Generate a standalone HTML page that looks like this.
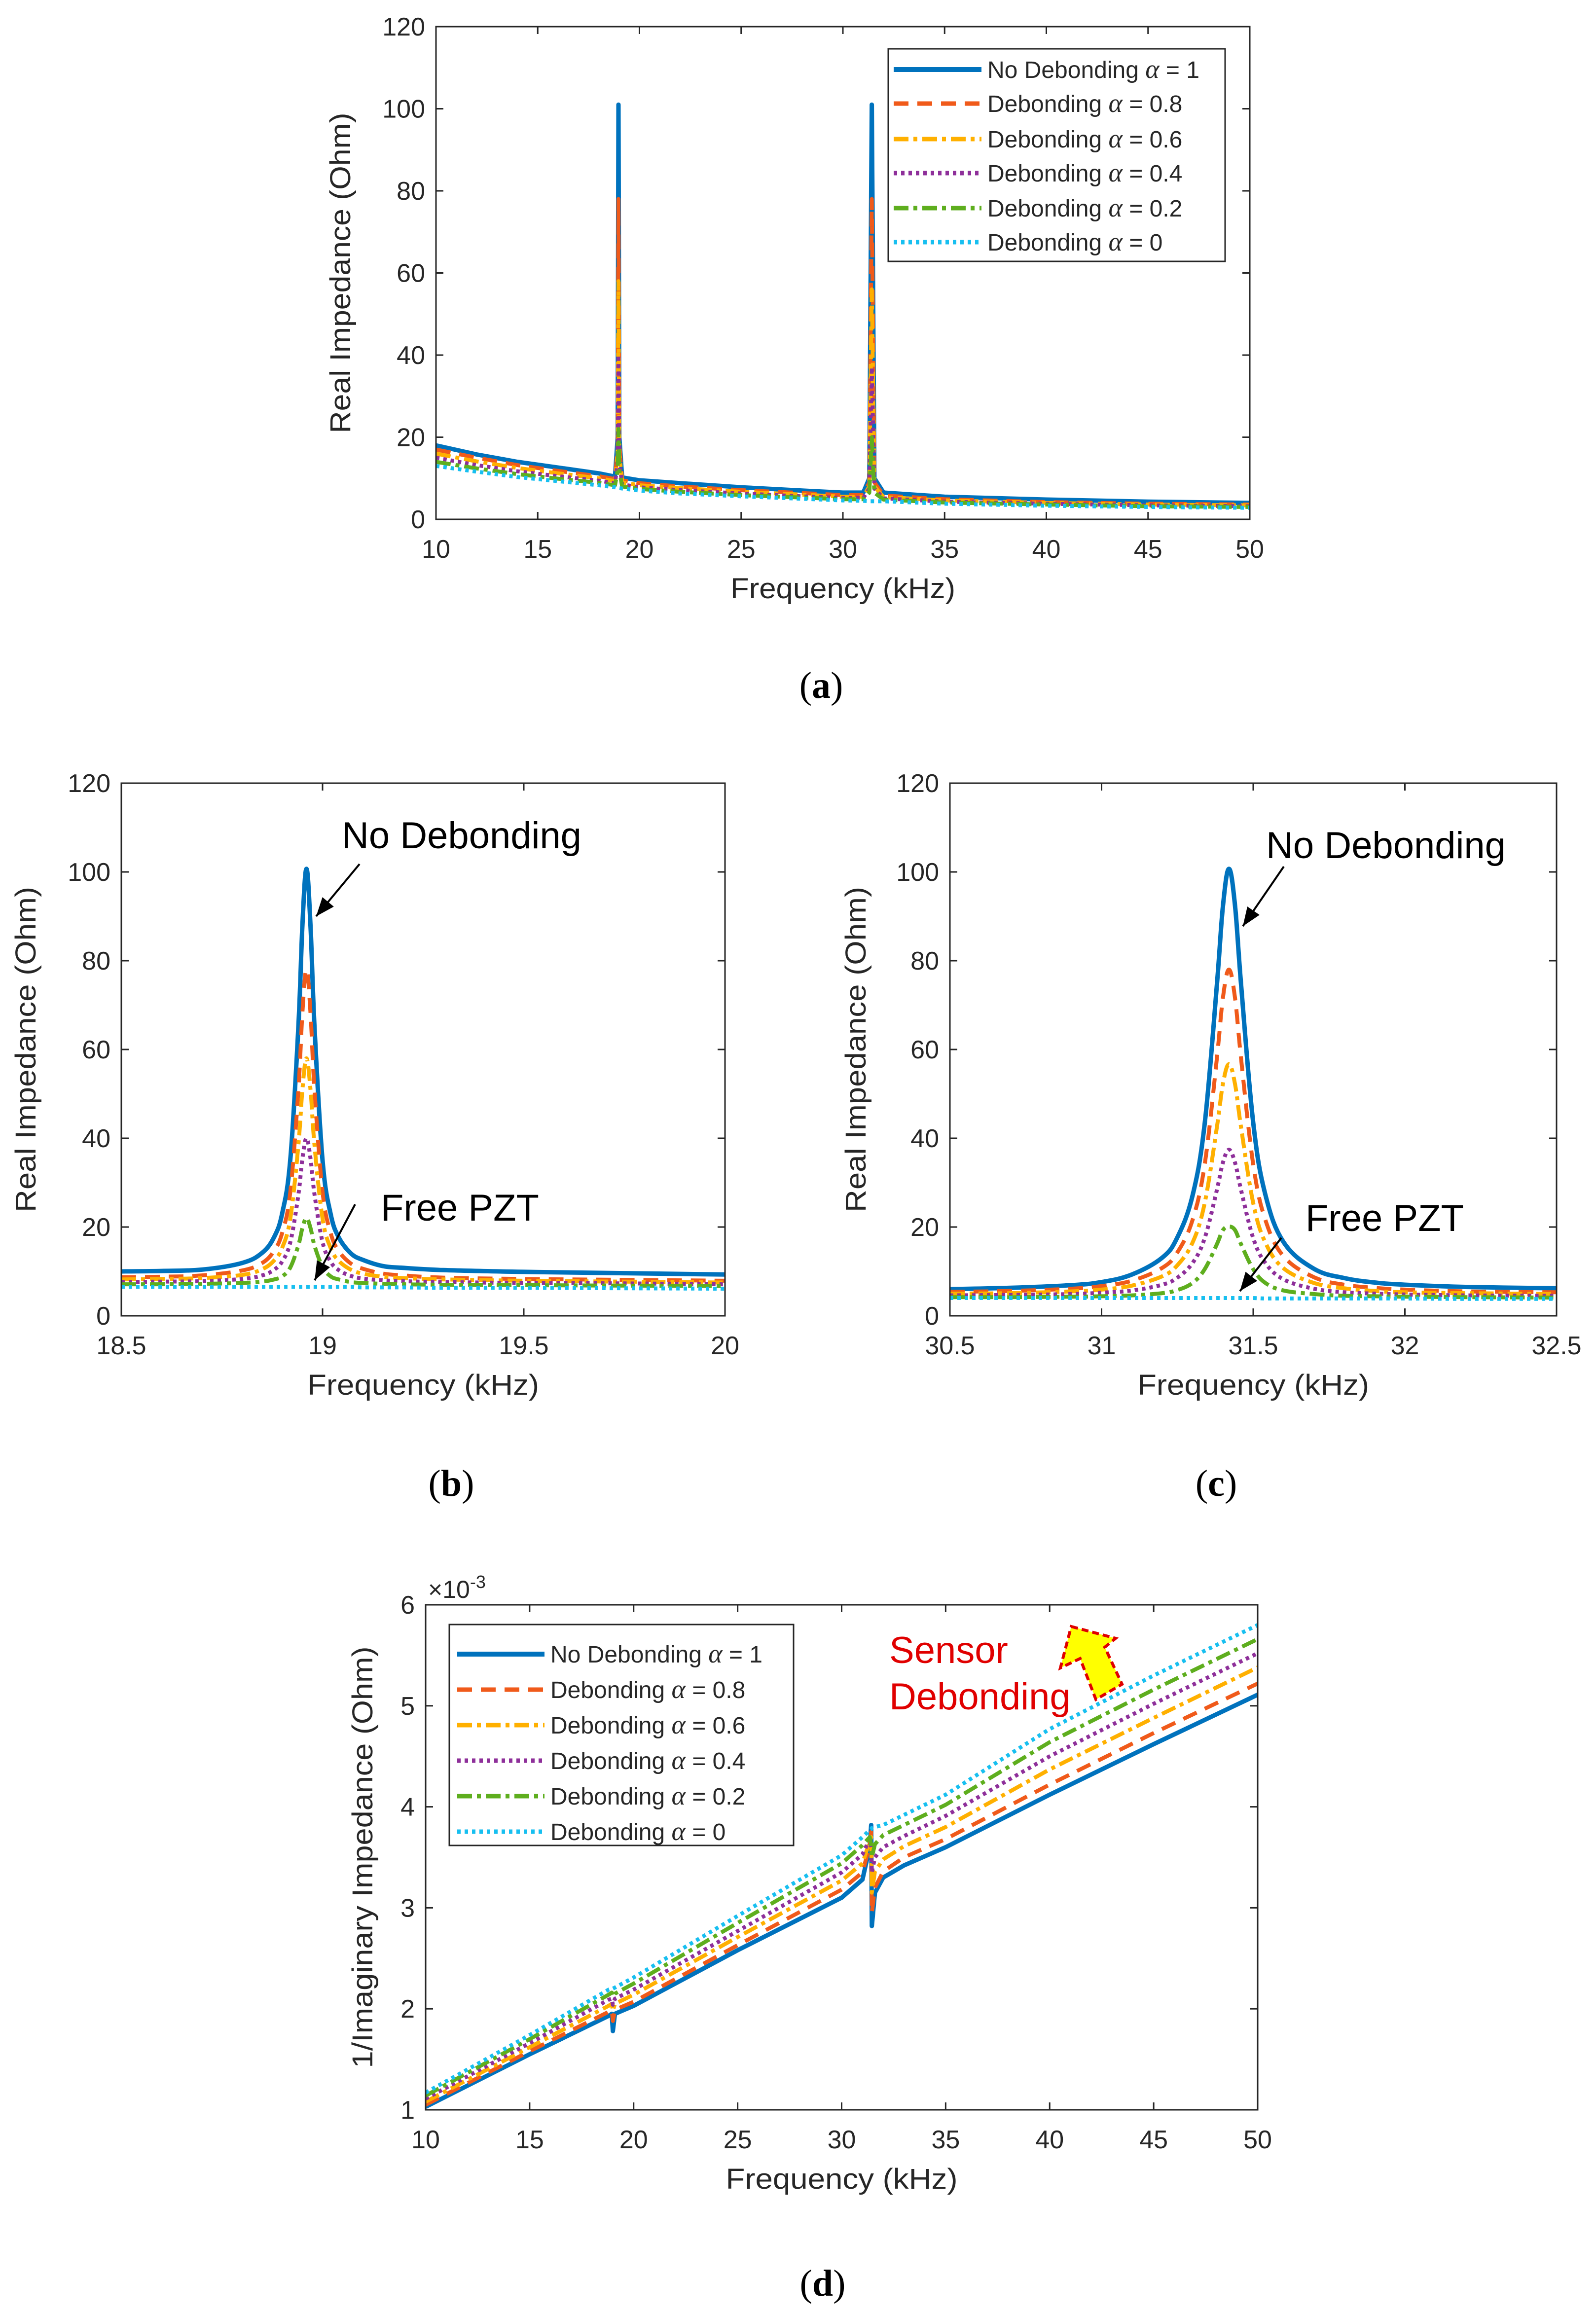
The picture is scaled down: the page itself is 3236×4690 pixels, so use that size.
<!DOCTYPE html>
<html><head><meta charset="utf-8">
<style>
html,body{margin:0;padding:0;background:#fff;}
svg{display:block;}
text{font-family:"Liberation Sans",sans-serif;fill:#262626;}
.tick{font-family:"Liberation Sans Narrow","Liberation Sans",sans-serif;font-size:52px;}
.cap{font-family:"Liberation Serif",serif;font-size:76px;fill:#000;}
.ann{font-family:"Liberation Sans Narrow","Liberation Sans",sans-serif;font-size:76px;fill:#000;}
</style></head>
<body>
<svg id="fig" xmlns="http://www.w3.org/2000/svg" width="3236" height="4690" viewBox="0 0 3236 4690">
</svg>
<script>
// ---------- Panel (a) data ----------
const freqA = [10,12,14,16,18,18.8,18.93,18.97,19.01,19.15,20,22,25,28,30,31,31.3,31.42,31.55,32,35,40,45,50];
const a_a1  = [18,15.8,14,12.6,11.2,10.4,20,101,20,10.2,9.5,8.8,7.8,7,6.5,6.5,10,101,10,6.5,5.5,4.8,4.3,4];
const a_a08 = [17,15,13.2,11.8,10.5,9.8,18,78,18,9.5,8.8,8,7.1,6.4,5.9,5.9,9,78,9,5.8,4.9,4.2,3.8,3.6];
const a_a06 = [16,14.1,12.5,11.2,10,9.3,16,58,16,9,8.3,7.6,6.7,6,5.5,5.5,8,56,8,5.4,4.6,4,3.6,3.4];
const a_a04 = [15,13.2,11.7,10.5,9.4,8.8,14,40,14,8.5,7.8,7.1,6.3,5.6,5.2,5.2,7.5,37,7.5,5.1,4.3,3.8,3.4,3.2];
const a_a02 = [14,12.4,11,9.9,8.9,8.3,12,22,12,8,7.4,6.7,5.9,5.3,4.9,4.9,6.5,20,6.5,4.8,4.1,3.6,3.2,3];
const a_a0  = [13,11.6,10.3,9.3,8.3,7.8,7.6,7.6,7.6,7.5,7,6.3,5.6,5,4.6,4.5,4.4,4.4,4.4,4.4,3.8,3.3,3,2.8];
const xticksA = [10,15,20,25,30,35,40,45,50];
const yticksA = [0,20,40,60,80,100,120];
// ---------- Panel (b) data ----------
const freqB = [18.5,18.6,18.7,18.8,18.85,18.88,18.9,18.92,18.94,18.95,18.96,18.97,18.98,19.0,19.02,19.04,19.07,19.1,19.15,19.2,19.3,19.5,19.75,20];
const b_a1  = [10,10.1,10.4,11.9,14.2,17.8,23.2,35.3,65.2,88.1,100.7,88,65,35,23,17.7,14.1,12.6,11.2,10.8,10.3,9.9,9.6,9.3];
const b_a08 = [8.7,8.8,9.1,10.2,11.9,14.7,18.8,28,50.9,68.4,78,68.3,50.8,27.9,18.7,14.6,11.8,10.6,9.5,9.1,8.6,8.3,8.1,7.9];
const b_a06 = [8.2,8.3,8.5,9.2,10.5,12.5,15.4,22,38.5,51,58,51,38.4,21.9,15.3,12.4,10.4,9.5,8.8,8.5,8.2,7.9,7.7,7.5];
const b_a04 = [7.6,7.7,7.8,8.3,9.1,10.4,12.3,16.6,27.3,35.5,40,35.5,27.3,16.6,12.2,10.3,9,8.4,8,7.8,7.6,7.4,7.3,7.1];
const b_a02 = [7.1,7.1,7.2,7.4,7.7,8.2,8.9,10.9,15.9,19.8,22,19.8,15.8,11,8.9,8.2,7.6,7.4,7.2,7.1,7,6.9,6.8,6.7];
const b_a0  = [6.5,6.5,6.5,6.5,6.5,6.5,6.5,6.5,6.5,6.5,6.5,6.5,6.5,6.5,6.5,6.5,6.5,6.4,6.4,6.4,6.3,6.3,6.2,6.1];
const xticksB = [18.5,19,19.5,20];
const yticksB = [0,20,40,60,80,100,120];
// ---------- Panel (c) data ----------
const freqC = [30.5,30.7,30.9,31.0,31.1,31.2,31.25,31.3,31.34,31.38,31.4,31.42,31.44,31.46,31.5,31.54,31.6,31.7,31.8,31.9,32.0,32.2,32.5];
const c_a1  = [6.0,6.3,6.9,7.6,9.3,13.1,17.7,27.1,43.3,74.4,92.2,100.7,92.4,74.6,43.5,27.3,16.6,10.6,8.5,7.5,7.0,6.5,6.2];
const c_a08 = [5.4,5.6,6.1,6.7,7.9,10.8,14.3,21.6,34.1,57.9,71.6,78,71.6,57.9,34.1,21.6,13.4,8.7,7,6.3,5.9,5.5,5.3];
const c_a06 = [5,5.1,5.5,5.9,6.8,8.9,11.4,16.5,25.4,42.4,52.2,56.7,52.2,42.4,25.4,16.5,10.7,7.4,6.2,5.6,5.3,5.1,4.9];
const c_a04 = [4.6,4.7,4.9,5.2,5.7,7,8.6,11.9,17.5,28.3,34.5,37.4,34.5,28.3,17.5,11.9,8.2,6.1,5.3,5,4.8,4.6,4.5];
const c_a02 = [4.2,4.2,4.3,4.4,4.6,5.1,5.8,7.4,10.5,16.1,19.3,20.1,19.3,16.1,10.5,7.4,5.7,4.9,4.5,4.4,4.3,4.2,4.1];
const c_a0  = [4,4,4,4,4,4,4,4,4,4,4,4,4,4,4,3.9,3.9,3.9,3.9,3.9,3.9,3.8,3.8];
const xticksC = [30.5,31,31.5,32,32.5];
const yticksC = [0,20,40,60,80,100,120];
// ---------- Panel (d) data (x1e-3) ----------
const freqD = [10,15,18.8,18.95,19.0,19.1,20,25,30,31,31.35,31.42,31.45,31.6,32,33,35,40,45,50];
const d_a1  = [1.03,1.55,1.93,1.95,1.78,1.95,2.03,2.58,3.1,3.28,3.6,3.82,2.82,3.15,3.3,3.42,3.6,4.12,4.62,5.11];
const d_a08 = [1.05,1.58,1.97,1.99,1.88,1.99,2.07,2.63,3.18,3.35,3.62,3.75,2.95,3.2,3.36,3.5,3.68,4.22,4.73,5.22];
const d_a06 = [1.08,1.62,2.03,2.05,1.98,2.05,2.14,2.71,3.27,3.44,3.66,3.7,3.15,3.36,3.48,3.61,3.8,4.37,4.88,5.38];
const d_a04 = [1.11,1.66,2.09,2.1,2.04,2.1,2.19,2.77,3.35,3.53,3.68,3.6,3.35,3.5,3.6,3.71,3.91,4.5,5.02,5.52];
const d_a02 = [1.14,1.7,2.14,2.16,2.12,2.15,2.25,2.85,3.44,3.62,3.7,3.62,3.5,3.63,3.72,3.82,4.02,4.64,5.16,5.66];
const d_a0  = [1.17,1.74,2.19,2.2,2.2,2.21,2.31,2.92,3.52,3.7,3.77,3.78,3.79,3.8,3.82,3.92,4.12,4.77,5.3,5.8];
const xticksD = [10,15,20,25,30,35,40,45,50];
const yticksD = [1,2,3,4,5,6];
const legendLabels = ["No Debonding ","Debonding ","Debonding ","Debonding ","Debonding ","Debonding "];
const legendAlphas = ["1","0.8","0.6","0.4","0.2","0"];

const NS="http://www.w3.org/2000/svg";
const svg=document.getElementById('fig');
const STYLES=[
 {c:"#0072BD",d:null,w:9},
 {c:"#F05A1A",d:"30 18",w:8},
 {c:"#FFB000",d:"30 10 8 10",w:8},
 {c:"#8E2F9A",d:"7 8",w:8},
 {c:"#5EAE1E",d:"30 10 8 10",w:8},
 {c:"#17BFF0",d:"7 8",w:8}
];
function el(tag,attrs,parent){const e=document.createElementNS(NS,tag);for(const k in attrs)e.setAttribute(k,attrs[k]);(parent||svg).appendChild(e);return e;}

function pathFor(pts,smooth){
  let d='M'+pts[0][0].toFixed(1)+','+pts[0][1].toFixed(1);
  for(let i=0;i<pts.length-1;i++){
    if(!smooth){d+='L'+pts[i+1][0].toFixed(1)+','+pts[i+1][1].toFixed(1);continue;}
    const p0=pts[Math.max(0,i-1)],p1=pts[i],p2=pts[i+1],p3=pts[Math.min(pts.length-1,i+2)];
    const t=0.18;
    let c1x=p1[0]+(p2[0]-p0[0])*t,c1y=p1[1]+(p2[1]-p0[1])*t;
    let c2x=p2[0]-(p3[0]-p1[0])*t,c2y=p2[1]-(p3[1]-p1[1])*t;
    const lo=Math.min(p1[1],p2[1]),hi=Math.max(p1[1],p2[1]);
    c1y=Math.min(hi,Math.max(lo,c1y));c2y=Math.min(hi,Math.max(lo,c2y));
    d+='C'+c1x.toFixed(1)+','+c1y.toFixed(1)+' '+c2x.toFixed(1)+','+c2y.toFixed(1)+' '+p2[0].toFixed(1)+','+p2[1].toFixed(1);
  }
  return d;
}

function panel(id,box,xr,yr,freq,series,xt,yt,fmtY,ylab,ylabLen,xlabLen,ylabX,smooth){
  const g=el('g',{});
  
  
  const sx=v=>box.x0+(v-xr[0])/(xr[1]-xr[0])*(box.x1-box.x0);
  const sy=v=>box.y1-(v-yr[0])/(yr[1]-yr[0])*(box.y1-box.y0);
  const cid='clip'+id;
  const cp=el('clipPath',{id:cid},g);
  el('rect',{x:box.x0,y:box.y0,width:box.x1-box.x0,height:box.y1-box.y0},cp);
  series.forEach((vals,i)=>{
    const st=STYLES[i];
    const pts=vals.map((v,j)=>[sx(freq[j]),sy(v)]);
    const p=el('path',{d:pathFor(pts,smooth),fill:'none',stroke:st.c,'stroke-width':st.w,'stroke-linejoin':'round','clip-path':'url(#'+cid+')'},g);
    if(st.d)p.setAttribute('stroke-dasharray',st.d);
    
    
  });
  const r=el('rect',{x:box.x0,y:box.y0,width:box.x1-box.x0,height:box.y1-box.y0,fill:'none',stroke:'#262626','stroke-width':3},g);
  
  
  const tl=15;
  xt.forEach(v=>{
    const x=sx(v);
    el('line',{x1:x,y1:box.y1,x2:x,y2:box.y1-tl,stroke:'#262626','stroke-width':3},g);
    el('line',{x1:x,y1:box.y0,x2:x,y2:box.y0+tl,stroke:'#262626','stroke-width':3},g);
    const t=el('text',{x:x,y:box.y1+78,'text-anchor':'middle',class:'tick'},g);
    t.textContent=String(v);
    
    
  });
  yt.forEach(v=>{
    const y=sy(v);
    el('line',{x1:box.x0,y1:y,x2:box.x0+tl,y2:y,stroke:'#262626','stroke-width':3},g);
    el('line',{x1:box.x1,y1:y,x2:box.x1-tl,y2:y,stroke:'#262626','stroke-width':3},g);
    const t=el('text',{x:box.x0-22,y:y+18,'text-anchor':'end',class:'tick'},g);
    t.textContent=fmtY(v);
    
    
  });
  const xl=el('text',{x:(box.x0+box.x1)/2,y:box.y1+160,'text-anchor':'middle','font-size':58,textLength:xlabLen,lengthAdjust:'spacingAndGlyphs'},g);
  xl.textContent='Frequency (kHz)';
  
  
  const cy=(box.y0+box.y1)/2;
  const yl=el('text',{x:ylabX,y:cy,'text-anchor':'middle','font-size':58,transform:'rotate(-90 '+ylabX+' '+cy+')',textLength:ylabLen,lengthAdjust:'spacingAndGlyphs'},g);
  yl.textContent=ylab;
  
  
  return {sx,sy,g};
}

function legend(id,x0,y0,w,h,rowY,lineX0,lineX1,textX){
  const g=el('g',{});
  
  
  el('rect',{x:x0,y:y0,width:w,height:h,fill:'#fff',stroke:'#262626','stroke-width':3},g);
  rowY.forEach((y,i)=>{
    const st=STYLES[i];
    const l=el('line',{x1:lineX0,y1:y,x2:lineX1,y2:y,stroke:st.c,'stroke-width':st.w+1},g);
    if(st.d)l.setAttribute('stroke-dasharray',st.d);
    const t=el('text',{x:textX,y:y+17,'font-size':48},g);
    
    
    const s1=el('tspan',{},t);s1.textContent=legendLabels[i];
    const s2=el('tspan',{'font-family':'Liberation Serif,serif','font-style':'italic','font-size':54},t);s2.textContent='α';
    const s3=el('tspan',{},t);s3.textContent=' = '+legendAlphas[i];
  });
}
function txt(s,attrs,name){const t=el('text',attrs);t.textContent=s;return t;}
function cap(letter,x,y){
  const t=el('text',{x:x,y:y,'text-anchor':'middle',class:'cap'});
  
  
  const a=el('tspan',{},t);a.textContent='(';
  const b=el('tspan',{'font-weight':'bold'},t);b.textContent=letter;
  const c=el('tspan',{},t);c.textContent=')';
}
function arrow(x1,y1,x2,y2,name){
  const a=el('line',{x1,y1,x2,y2,stroke:'#000','stroke-width':4});
  
  
  const ang=Math.atan2(y2-y1,x2-x1),L=38,W=15;
  const bx=x2-L*Math.cos(ang),by=y2-L*Math.sin(ang);
  const px=-Math.sin(ang)*W,py=Math.cos(ang)*W;
  el('polygon',{points:`${x2},${y2} ${bx+px},${by+py} ${bx-px},${by-py}`,fill:'#000'});
}

const fmtInt=v=>String(v);
// (a)
panel('a',{x0:884,x1:2534,y0:54,y1:1053},[10,50],[0,120],freqA,[a_a1,a_a08,a_a06,a_a04,a_a02,a_a0],xticksA,yticksA,fmtInt,'Real Impedance (Ohm)',650,456,710,false);
legend('a',1801,99,683,431,[141,210,282,351,422,491],1812,1990,2002);
cap('a',1665,1415);
// (b)
panel('b',{x0:246,x1:1470,y0:1588,y1:2668},[18.5,20],[0,120],freqB,[b_a1,b_a08,b_a06,b_a04,b_a02,b_a0],xticksB,yticksB,fmtInt,'Real Impedance (Ohm)',660,470,72,true);
txt('No Debonding',{x:693,y:1720,class:'ann'},'annotation-no-debonding-b');
arrow(729,1752,641,1858,'arrow-no-debonding-b');
txt('Free PZT',{x:772,y:2475,class:'ann'},'annotation-free-pzt-b');
arrow(720,2442,638,2596,'arrow-free-pzt-b');
cap('b',915,3033);
// (c)
panel('c',{x0:1926,x1:3156,y0:1588,y1:2668},[30.5,32.5],[0,120],freqC,[c_a1,c_a08,c_a06,c_a04,c_a02,c_a0],xticksC,yticksC,fmtInt,'Real Impedance (Ohm)',660,470,1755,true);
txt('No Debonding',{x:2567,y:1740,class:'ann'},'annotation-no-debonding-c');
arrow(2603,1757,2520,1878,'arrow-no-debonding-c');
txt('Free PZT',{x:2647,y:2496,class:'ann'},'annotation-free-pzt-c');
arrow(2598,2510,2514,2618,'arrow-free-pzt-c');
cap('c',2466,3033);
// (d)
panel('d',{x0:863,x1:2550,y0:3254,y1:4278},[10,50],[1,6],freqD,[d_a1,d_a08,d_a06,d_a04,d_a02,d_a0],xticksD,yticksD,fmtInt,'1/Imaginary Impedance (Ohm)',855,470,755,false);
const ex=txt('×10',{x:868,y:3240,'font-size':50},'exponent-label');
const sup=el('tspan',{dy:-20,'font-size':36},ex);sup.textContent='-3';
legend('d',911,3294,698,448,[3354,3426,3498,3570,3642,3714],927,1104,1116);
txt('Sensor',{x:1803,y:3372,class:'ann',style:'fill:#E00000'},'annotation-sensor');
txt('Debonding',{x:1803,y:3466,class:'ann',style:'fill:#E00000'},'annotation-debonding');
const ya=el('polygon',{points:'2172,3298 2262,3322 2240,3340 2275,3415 2222,3446 2190,3363 2150,3382',fill:'#FFFF00',stroke:'#E00000','stroke-width':6,'stroke-dasharray':'14 8'});


cap('d',1668,4655);
</script>
</body></html>
